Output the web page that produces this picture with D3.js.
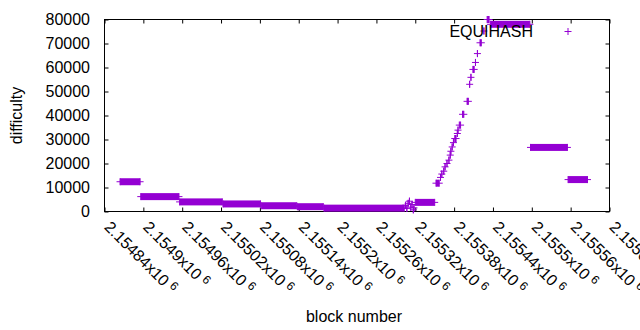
<!DOCTYPE html>
<html>
<head>
<meta charset="utf-8">
<script src="https://cdn.jsdelivr.net/npm/d3@7"></script>
<style>
body { margin: 0; background: #fff; }
text { font-family: "Liberation Sans", Arial, sans-serif; font-size: 16px; fill: #000; }
</style>
</head>
<body>
<div id="chart"></div>
<script>
// difficulty periods: first block, last block, difficulty
var blockStart = [2154864, 2154896, 2154956, 2155023, 2155082, 2155138, 2155179,
                  2155305, 2155307, 2155309, 2155311, 2155313, 2155315, 2155317, 2155318,
                  2155320, 2155352, 2155359, 2155361, 2155364, 2155366, 2155369, 2155372,
                  2155374, 2155375, 2155377, 2155379, 2155381, 2155385, 2155386, 2155388,
                  2155393, 2155400, 2155404, 2155406, 2155409, 2155413, 2155416, 2155420,
                  2155426, 2155431, 2155436, 2155498, 2155556];
var blockEnd   = [2154895, 2154955, 2155022, 2155081, 2155137, 2155178, 2155303,
                  2155305, 2155307, 2155309, 2155311, 2155313, 2155315, 2155317, 2155318,
                  2155350, 2155357, 2155359, 2155361, 2155364, 2155366, 2155369, 2155372,
                  2155374, 2155375, 2155377, 2155379, 2155383, 2155385, 2155386, 2155390,
                  2155395, 2155402, 2155404, 2155406, 2155411, 2155413, 2155416, 2155422,
                  2155426, 2155434, 2155497, 2155555, 2155586];
var difficulty = [12400, 6200, 4000, 3150, 2400, 2000, 1400,
                  2600, 1300, 3400, 4300, 1800, 2900, 700, 1500,
                  3800, 11800, 14200, 15600, 16800, 18600, 20000, 21400,
                  23500, 25100, 26900, 28700, 30400, 32500, 33900, 36000,
                  40500, 45900, 53000, 55900, 59200, 62100, 65800, 70300,
                  75200, 80000, 78000, 26700, 13300];

var xTicks = [2154840, 2154900, 2154960, 2155020, 2155080, 2155140, 2155200,
              2155260, 2155320, 2155380, 2155440, 2155500, 2155560, 2155620];
var yTicks = [0, 10000, 20000, 30000, 40000, 50000, 60000, 70000, 80000];
var seriesName = "EQUIHASH";

var wd = 640;
var ht = 330;
var margin = { top: 19.5, right: 30.5, bottom: 118.5, left: 104.5 };
var color = "#9400d3";
var arm = 3.5;

var svg = d3.select("#chart").append("svg").attr("width", wd).attr("height", ht);

var xScale = d3.scaleLinear().domain([xTicks[0], xTicks[xTicks.length - 1]])
               .range([margin.left, wd - margin.right]);
var yScale = d3.scaleLinear().domain([0, 80000]).range([ht - margin.bottom, margin.top]);

var data = blockStart.map(function(s, i) { return { s: s, e: blockEnd[i], v: difficulty[i] }; });

// tick marks point inwards on all four sides, like gnuplot
var xAxis = d3.axisBottom(xScale).tickValues(xTicks).tickSize(-4).tickSizeOuter(0).tickFormat("");
var xAxisTop = d3.axisTop(xScale).tickValues(xTicks).tickSize(-4).tickSizeOuter(0).tickFormat("");
var yAxis = d3.axisLeft(yScale).tickValues(yTicks).tickSize(-4).tickSizeOuter(0).tickFormat("");
var yAxisRight = d3.axisRight(yScale).tickValues(yTicks).tickSize(-4).tickSizeOuter(0).tickFormat("");

svg.append("g").attr("transform", "translate(0," + (ht - margin.bottom) + ")").call(xAxis);
svg.append("g").attr("transform", "translate(0," + margin.top + ")").call(xAxisTop);
svg.append("g").attr("transform", "translate(" + margin.left + ",0)").call(yAxis);
svg.append("g").attr("transform", "translate(" + (wd - margin.right) + ",0)").call(yAxisRight);
svg.selectAll(".domain").remove();
svg.selectAll(".tick line").attr("stroke", "#000");

svg.append("rect")
   .attr("x", margin.left).attr("y", margin.top)
   .attr("width", wd - margin.right - margin.left)
   .attr("height", ht - margin.bottom - margin.top)
   .attr("fill", "none").attr("stroke", "#000");

// y tick labels
svg.append("g").selectAll("text").data(yTicks).enter().append("text")
   .attr("x", 90)
   .attr("y", function(d) { return yScale(d); })
   .attr("dy", "0.36em")
   .attr("text-anchor", "end")
   .text(function(d) { return d; });

// x tick labels, rotated, with the x10^6 suffix
var xl = svg.append("g").selectAll("text").data(xTicks).enter().append("text")
   .attr("text-anchor", "start")
   .attr("transform", function(d) { return "translate(" + (xScale(d) - 1) + ",228) rotate(45)"; });
xl.append("tspan").text(function(d) { return String(+(d / 1e6).toFixed(5)) + "x10"; });
xl.append("tspan").attr("dx", 4).attr("dy", -5).style("font-size", "12px").text("6");

// points: a + for each block, dense runs become a solid bar
var plot = svg.append("g");
plot.selectAll("rect").data(data.filter(function(d) { return d.e > d.s; })).enter().append("rect")
    .attr("x", function(d) { return xScale(d.s); })
    .attr("y", function(d) { return yScale(d.v) - arm; })
    .attr("width", function(d) { return xScale(d.e) - xScale(d.s); })
    .attr("height", arm * 2)
    .attr("fill", color);
plot.selectAll("path").data(data).enter().append("path")
    .attr("d", function(d) {
      var x0 = xScale(d.s), x1 = xScale(d.e), y = yScale(d.v);
      return "M" + (x0 - arm) + "," + y + "H" + (x1 + arm) +
             "M" + x0 + "," + (y - arm) + "V" + (y + arm) +
             "M" + x1 + "," + (y - arm) + "V" + (y + arm);
    })
    .attr("fill", "none")
    .attr("stroke", color)
    .attr("stroke-width", 1);

// legend
svg.append("text").attr("x", 533).attr("y", 37).attr("text-anchor", "end").text(seriesName);
svg.append("path")
   .attr("d", "M" + (568 - arm) + ",31.5H" + (568 + arm) + "M568," + (31.5 - arm) + "V" + (31.5 + arm))
   .attr("stroke", color).attr("fill", "none");

// axis titles
svg.append("text").attr("text-anchor", "middle")
   .attr("transform", "translate(22," + ((margin.top + ht - margin.bottom) / 2) + ") rotate(-90)")
   .text("difficulty");
svg.append("text").attr("text-anchor", "middle").attr("x", 354).attr("y", 322).text("block number");
</script>
</body>
</html>
